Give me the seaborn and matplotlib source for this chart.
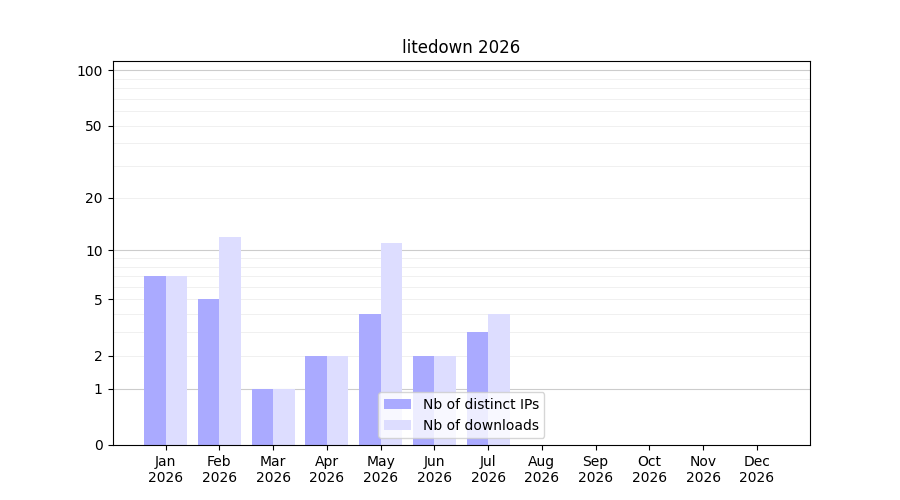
import numpy as np
import pandas as pd
import seaborn as sns
import matplotlib.pyplot as plt
from matplotlib.ticker import FixedLocator

months = ["Jan\n2026", "Feb\n2026", "Mar\n2026", "Apr\n2026", "May\n2026", "Jun\n2026",
          "Jul\n2026", "Aug\n2026", "Sep\n2026", "Oct\n2026", "Nov\n2026", "Dec\n2026"]
distinct_ips = [7, 5, 1, 2, 4, 2, 3, 0, 0, 0, 0, 0]
downloads = [7, 12, 1, 2, 11, 2, 4, 0, 0, 0, 0, 0]

df = pd.DataFrame({
    "month": months * 2,
    "value": distinct_ips + downloads,
    "series": ["Nb of distinct IPs"] * 12 + ["Nb of downloads"] * 12,
})

fig = plt.figure(figsize=(9, 5), dpi=100)
ax = fig.add_axes([0.125, 0.11, 0.775, 0.768])
ax.set_yscale("function", functions=(lambda x: np.log10(1 + np.clip(x, 0, None)),
                                     lambda y: 10 ** y - 1))
sns.barplot(data=df, x="month", y="value", hue="series", order=months,
            palette=["#aaaaff", "#ddddff"], saturation=1, width=0.8, ax=ax)
ax.set_ylim(0, 112)
ax.set_xlim(-0.99, 11.99)
ax.yaxis.set_major_locator(FixedLocator([0, 1, 2, 5, 10, 20, 50, 100]))
ax.yaxis.set_major_formatter(plt.FuncFormatter(lambda v, p: f"{v:g}"))
ax.yaxis.set_minor_locator(FixedLocator([]))
for v in [1, 10, 100]:
    ax.axhline(v, color="#cccccc", lw=0.8, zorder=0)
for v in list(range(2, 10)) + list(range(20, 100, 10)):
    ax.axhline(v, color="#eeeeee", lw=0.6, zorder=0)
ax.set_xlabel("")
ax.set_ylabel("")
ax.set_title("litedown 2026")
ax.legend(loc="lower center", title=None)
fig.savefig("out.png")
